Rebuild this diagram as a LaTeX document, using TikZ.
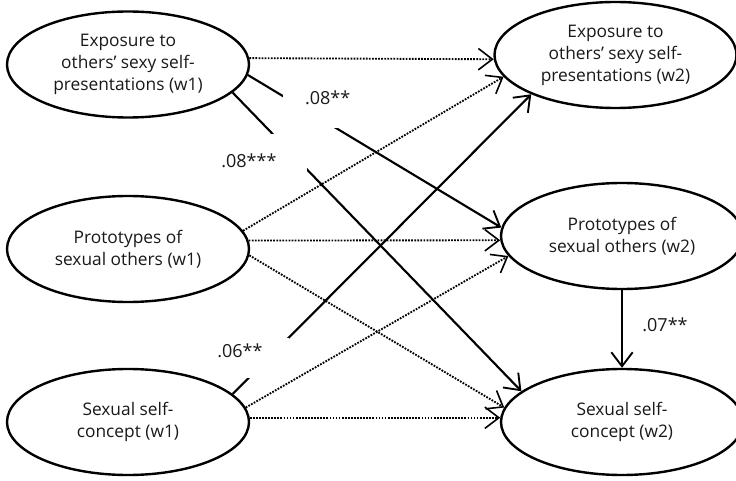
\documentclass[tikz,border=0pt]{standalone}
\usepackage{fontspec}
\setmainfont{Open Sans}
\usetikzlibrary{shapes.geometric,arrows.meta}

\tikzset{
  latent/.style={ellipse, draw, line width=1.8pt, minimum width=181.5pt, minimum height=79.5pt,
    inner sep=0pt, align=center, text=black!90, font=\fontsize{13}{16.5}\selectfont},
  sigpath/.style={line width=1.6pt, -{Straight Barb[length=10.5pt,width=16pt,line width=1.4pt]}},
  nspath/.style={line width=1.4pt, dash pattern=on 1.3pt off 1pt,
    -{Straight Barb[length=10.5pt,width=16pt,line width=1.2pt]}},
  coef/.style={fill=white, inner sep=0pt, text=black!90, font=\fontsize{13.5}{15}\selectfont}
}

\begin{document}
\begin{tikzpicture}[x=0.75pt,y=0.75pt,yscale=-1,xscale=1]
\useasboundingbox (0,0) rectangle (736,481);

%Latent variables, wave 1
\node [latent] (ew1) at (128,64.5) {Exposure to\\others’ sexy self-\\presentations (w1)};
\node [latent] (pw1) at (128,249) {Prototypes of\\sexual others (w1)};
\node [latent] (sw1) at (128,422) {Sexual self-\\concept (w1)};
%Latent variables, wave 2
\node [latent] (ew2) at (615.5,55) {Exposure to\\others’ sexy self-\\presentations (w2)};
\node [latent] (pw2) at (622,236) {Prototypes of\\sexual others (w2)};
\node [latent] (sw2) at (622,422) {Sexual self-\\concept (w2)};

%Non-significant paths
\draw [nspath] (ew1.3) -- (ew2.182);
\draw [nspath] (pw1.9) -- (ew2.191);
\draw [nspath] (pw1.4) -- (pw2.182);
\draw [nspath] (pw1.357) -- (sw2.173);
\draw [nspath] (sw1.7) -- (pw2.190);
\draw [nspath] (sw1.2) -- (sw2.178);
%Significant paths
\draw [sigpath] (ew1.355) -- (pw2.176);
\draw [sigpath] (ew1.345) -- (sw2.163);
\draw [sigpath] (sw1.15) -- (ew2.205);
\draw [sigpath] (pw2.south) -- (sw2.north);

% Coefficients
\node [coef, anchor=base west, text width=50.25pt, align=right, text height=15.75pt, text depth=17.25pt] (b1) at (283,105) {.08**};
\node [coef, anchor=base west, text width=64.5pt, align=left, text height=25.5pt, text depth=3pt] (b2) at (221,168) {.08***};
\node [coef, anchor=base west, text width=54pt, align=left, text height=14.25pt, text depth=15.75pt] (b3) at (217,357) {.06**};
\node [coef] (b4) at (665,325) {.07**};
\end{tikzpicture}
\end{document}
